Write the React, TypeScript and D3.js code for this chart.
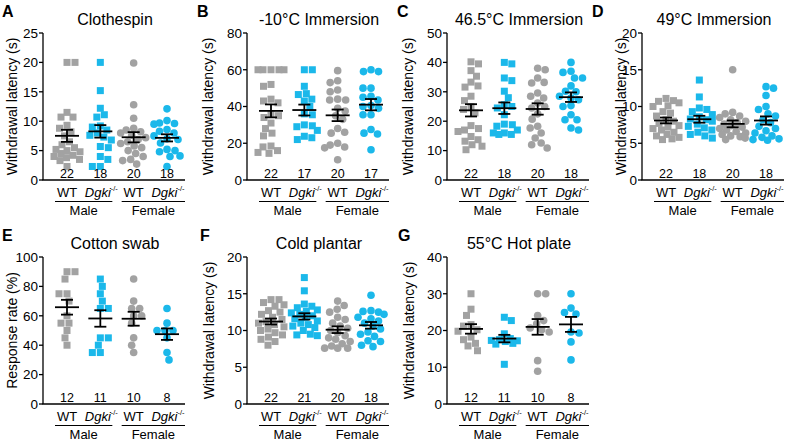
import React from "react";
import * as d3 from "d3";

// ---------- categories ----------
const groupKeys = ["Male WT", "Male Dgki", "Female WT", "Female Dgki"];
const sexes = ["Male", "Female"];
const panelLetters = ["A", "B", "C", "D", "E", "F", "G"];
const panelTitles = [
  "Clothespin",
  "-10°C Immersion",
  "46.5°C Immersion",
  "49°C Immersion",
  "Cotton swab",
  "Cold plantar",
  "55°C Hot plate",
];
const yAxisLabels = [
  "Withdrawal latency (s)",
  "Withdrawal latency (s)",
  "Withdrawal latency (s)",
  "Withdrawal latency (s)",
  "Response rate (%)",
  "Withdrawal latency (s)",
  "Withdrawal latency (s)",
];
const yMaxes = [25, 80, 50, 20, 100, 20, 40];
const yTickSteps = [5, 20, 10, 5, 20, 5, 10];

// ---------- values (Male WT, Male Dgki, Female WT, Female Dgki) ----------
const clothespin = [
  [20, 20, 11.5, 10.7, 10.7, 9.3, 8.8, 8.2, 7.5, 6.5, 6, 5.5, 5.2, 5, 4.8, 4.5, 4.2, 4, 3.8, 3.5, 3.3, 2.3],
  [20, 15.2, 12.2, 11.1, 10.7, 9.2, 9, 8.5, 8, 7.6, 7.3, 6.8, 5.7, 5.5, 4, 3.5, 2.3, 2.3],
  [19.9, 12.8, 10.5, 8.8, 8.5, 8.2, 8, 7.6, 7.2, 6.9, 6.5, 6.2, 5.8, 5.5, 5, 4.5, 4, 3.5, 3.3, 2.7],
  [12.1, 10.1, 9.7, 9.6, 9.5, 8.6, 8.3, 8, 7.5, 7.0, 6.9, 6.3, 5.2, 5, 4.8, 4.1, 4, 2.3],
];
const immersionMinus10 = [
  [60, 60, 60, 60, 60, 52, 51, 44, 43, 42, 36, 35, 34, 31, 28, 25.5, 24, 18.5, 18, 16, 15, 14.5],
  [60, 60, 51, 47, 46.5, 44, 43, 40, 36, 35.5, 30, 29.5, 29, 27, 23.8, 22, 23],
  [59.5, 54, 53, 48, 49, 44, 43.5, 43.5, 39, 37.5, 35, 33, 28, 26, 25.5, 20, 19, 18, 17.5, 11],
  [60, 59, 59, 50, 50, 45, 45.5, 43.5, 40, 40.5, 39, 35.5, 35.5, 27.5, 25.5, 25, 16.5],
];
const immersion465 = [
  [40.2, 39.5, 37.2, 35.3, 33.3, 32, 31.6, 28.5, 27, 25, 24, 22.8, 18.5, 17.5, 17, 16.5, 14.8, 13.7, 13.2, 12, 11.5, 10.3],
  [40, 39.5, 34.7, 33.8, 30.2, 28, 25.6, 25, 24.5, 22.2, 19, 18.8, 18.3, 17, 16, 16, 15.5, 15.5],
  [38, 37.5, 34.7, 33.2, 33, 29.6, 28.5, 27.9, 26.2, 25, 24.5, 22.5, 20.7, 18.3, 17.7, 16, 14.3, 12.6, 12, 10.9],
  [40, 37, 36.6, 34.7, 34.7, 32, 30.2, 30, 28.5, 27.9, 27.3, 25.3, 25, 22.2, 20.5, 20.5, 17.7, 17],
];
const immersion49 = [
  [11.1, 10.8, 10.7, 10.5, 10.1, 10, 9.3, 9.1, 8.7, 8.2, 8, 7.7, 7.4, 7.2, 7, 6.8, 6.5, 6.2, 6, 5.8, 5.6, 5.5],
  [13.6, 11.3, 9.8, 9.6, 9.3, 8.9, 8.6, 8.3, 8.2, 8, 7.6, 7.3, 7.1, 6.8, 6.5, 6.2, 6, 5.7],
  [15, 9.2, 9, 8.7, 8.5, 8.2, 8, 7.8, 7.6, 7.4, 7.2, 7, 6.8, 6.6, 6.4, 6.2, 6, 5.9, 5.7, 5.5],
  [12.7, 12.5, 11.5, 10, 9.6, 9, 8.7, 8.2, 7.8, 7.3, 7, 6.7, 6.4, 6, 5.8, 5.6, 5.5, 5.4],
];
const cottonSwab = [
  [90, 90, 85, 75, 75, 70, 60, 55, 55, 50, 45, 40],
  [85, 80, 75, 70, 65, 65, 45, 45, 40, 35, 35],
  [85, 70, 65, 65, 60, 60, 55, 45, 40, 35],
  [65, 55, 50, 50, 50, 45, 35, 30],
];
const coldPlantar = [
  [14.2, 14.2, 13.8, 13.5, 13.3, 12.7, 12.5, 12.2, 11.8, 11.5, 11.2, 11, 10.8, 10.5, 10.2, 10, 9.7, 9.4, 9.1, 8.8, 8.5, 8],
  [17.2, 15.4, 13.6, 13.3, 13.1, 12.8, 12.6, 12.4, 12.2, 12, 11.8, 11.6, 11.3, 11, 10.8, 10.6, 10.4, 10, 9.5, 9.4, 9.3],
  [14, 13.4, 12.9, 12.5, 11.8, 11.5, 11, 10.6, 10.3, 10, 9.7, 9.3, 9, 8.8, 8.5, 8.2, 7.9, 7.6, 7.6, 7.6],
  [14.8, 12.7, 12.6, 12.5, 12.2, 11.8, 11.6, 11.3, 11, 10.6, 10.2, 9.8, 9.5, 9.2, 8.6, 8.5, 8, 7.8],
];
const hotPlate = [
  [30, 25.8, 24.1, 21.6, 21.2, 20.2, 19.8, 18.2, 17.5, 16.5, 15.8, 14.5],
  [23.6, 22.7, 17.8, 19.1, 17.3, 17.5, 17.2, 17, 16.5, 16.3, 10.8],
  [30, 30, 24.1, 22.7, 21.8, 20.7, 20.2, 19.6, 11.8, 8.9],
  [30, 26.1, 24.9, 24.5, 19.6, 19.3, 16.9, 12],
];
const panelData = [clothespin, immersionMinus10, immersion465, immersion49, cottonSwab, coldPlantar, hotPlate];

// ---------- styling / layout ----------
const GRAY = "#a2a2a2";
const CYAN = "#1bb8ea";
const FONT = "'Liberation Sans', Arial, Helvetica, sans-serif";
const layouts = [
  { ax: 43, by: 180, ty: 33, lx: 2, labX: 12 },
  { ax: 247, by: 180, ty: 33, lx: 197, labX: 208 },
  { ax: 447, by: 180, ty: 33, lx: 397, labX: 408 },
  { ax: 642, by: 180, ty: 33, lx: 592, labX: 621 },
  { ax: 43, by: 404, ty: 257, lx: 2, labX: 12 },
  { ax: 247, by: 404, ty: 257, lx: 200, labX: 209 },
  { ax: 447, by: 404, ty: 257, lx: 398, labX: 409 },
];
const AXIS_W = 142;

type P = { x: number; y: number; v: number };

function swarm(vals: number[], y: (v: number) => number, cx: number, d = 7.6, maxOff = 13): P[] {
  const order = vals.map((v) => ({ v, py: y(v) })).sort((a, b) => a.py - b.py);
  const placed: P[] = [];
  for (const pt of order) {
    let best: number | null = null;
    for (let k = 0; k <= maxOff && best === null; k += 0.5) {
      const signs = placed.length % 2 ? [1, -1] : [-1, 1];
      for (const s of signs) {
        const off = s * k;
        if (placed.every((q) => Math.hypot(q.x - off, q.y - pt.py) >= d)) {
          best = off;
          break;
        }
      }
    }
    if (best === null) {
      let bestScore = -1;
      for (let off = -maxOff; off <= maxOff; off += 0.5) {
        const m = Math.min(...placed.map((q) => Math.hypot(q.x - off, q.y - pt.py)));
        if (m > bestScore) {
          bestScore = m;
          best = off;
        }
      }
    }
    placed.push({ x: best as number, y: pt.py, v: pt.v });
  }
  return placed.map((q) => ({ ...q, x: cx + q.x }));
}

function DgkiLabel({ x, y }: { x: number; y: number }) {
  return (
    <text x={x} y={y} textAnchor="middle" fontSize={13} fontFamily={FONT}>
      <tspan fontStyle="italic">Dgki</tspan>
      <tspan fontSize={7.5} dy={-5.5}>-/-</tspan>
    </text>
  );
}

function Panel({ idx }: { idx: number }) {
  const l = layouts[idx];
  const data = panelData[idx];
  const yMax = yMaxes[idx];
  const y = d3.scaleLinear().domain([0, yMax]).range([l.by, l.ty]);
  const x = d3.scalePoint<string>().domain(groupKeys).range([l.ax + 24, l.ax + 124]);
  const ticks = d3.range(0, yMax + 1e-9, yTickSteps[idx]);
  const sw = 1.3;

  return (
    <g>
      <text x={l.lx} y={l.ty - 16.5} fontSize={16} fontWeight="bold" fontFamily={FONT}>
        {panelLetters[idx]}
      </text>
      <text x={l.ax + 72} y={l.ty - 8.5} fontSize={16} textAnchor="middle" fontFamily={FONT}>
        {panelTitles[idx]}
      </text>
      <text
        transform={`translate(${l.labX},${(l.by + l.ty) / 2}) rotate(-90)`}
        textAnchor="middle"
        dy="0.35em"
        fontSize={14}
        fontFamily={FONT}
      >
        {yAxisLabels[idx]}
      </text>
      {/* y axis */}
      <line x1={l.ax} x2={l.ax} y1={l.by} y2={y(yMax)} stroke="#000" strokeWidth={sw} />
      {ticks.map((t) => (
        <g key={t}>
          <line x1={l.ax - 4} x2={l.ax} y1={y(t)} y2={y(t)} stroke="#000" strokeWidth={sw} />
          <text x={l.ax - 5} y={y(t)} dy="0.36em" textAnchor="end" fontSize={13.5} fontFamily={FONT}>
            {t}
          </text>
        </g>
      ))}
      {/* x axis */}
      <line x1={l.ax - 0.6} x2={l.ax + AXIS_W} y1={l.by} y2={l.by} stroke="#000" strokeWidth={sw} />
      {data.map((vals, gi) => {
        const cx = x(groupKeys[gi]) as number;
        const color = gi % 2 === 0 ? GRAY : CYAN;
        const isMale = gi < 2;
        const pts = swarm(vals, y, cx);
        const mean = d3.mean(vals) as number;
        const sem = (d3.deviation(vals) as number) / Math.sqrt(vals.length);
        return (
          <g key={gi}>
            {pts.map((p, i) =>
              isMale ? (
                <rect key={i} x={p.x - 3.5} y={p.y - 3.5} width={7} height={7} fill={color} />
              ) : (
                <circle key={i} cx={p.x} cy={p.y} r={3.8} fill={color} />
              )
            )}
            <g stroke="#000" strokeWidth={1.8}>
              <line x1={cx - 12} x2={cx + 12} y1={y(mean)} y2={y(mean)} />
              <line x1={cx} x2={cx} y1={y(mean - sem)} y2={y(mean + sem)} />
              <line x1={cx - 6} x2={cx + 6} y1={y(mean - sem)} y2={y(mean - sem)} />
              <line x1={cx - 6} x2={cx + 6} y1={y(mean + sem)} y2={y(mean + sem)} />
            </g>
            <text x={cx} y={l.by - 2.5} textAnchor="middle" fontSize={12.5} fontFamily={FONT}>
              {vals.length}
            </text>
            {gi % 2 === 0 ? (
              <text x={cx} y={l.by + 16.5} textAnchor="middle" fontSize={13} fontFamily={FONT}>
                WT
              </text>
            ) : (
              <DgkiLabel x={cx + 1} y={l.by + 16.5} />
            )}
          </g>
        );
      })}
      {sexes.map((s, si) => {
        const x1 = (x(groupKeys[si * 2]) as number) - 12;
        const x2 = si === 0 ? (x(groupKeys[1]) as number) + 12 : l.ax + AXIS_W;
        return (
          <g key={s}>
            <line x1={x1} x2={x2} y1={l.by + 21.5} y2={l.by + 21.5} stroke="#000" strokeWidth={1.2} />
            <text x={(x1 + x2) / 2} y={l.by + 34.5} textAnchor="middle" fontSize={13} fontFamily={FONT}>
              {s}
            </text>
          </g>
        );
      })}
    </g>
  );
}

export default function App() {
  return (
    <svg
      width={800}
      height={442}
      viewBox="0 0 800 442"
      style={{ position: "absolute", left: 0, top: 0, background: "#fff" }}
    >
      <rect width={800} height={442} fill="#fff" />
      {panelLetters.map((_, i) => (
        <Panel key={i} idx={i} />
      ))}
    </svg>
  );
}
